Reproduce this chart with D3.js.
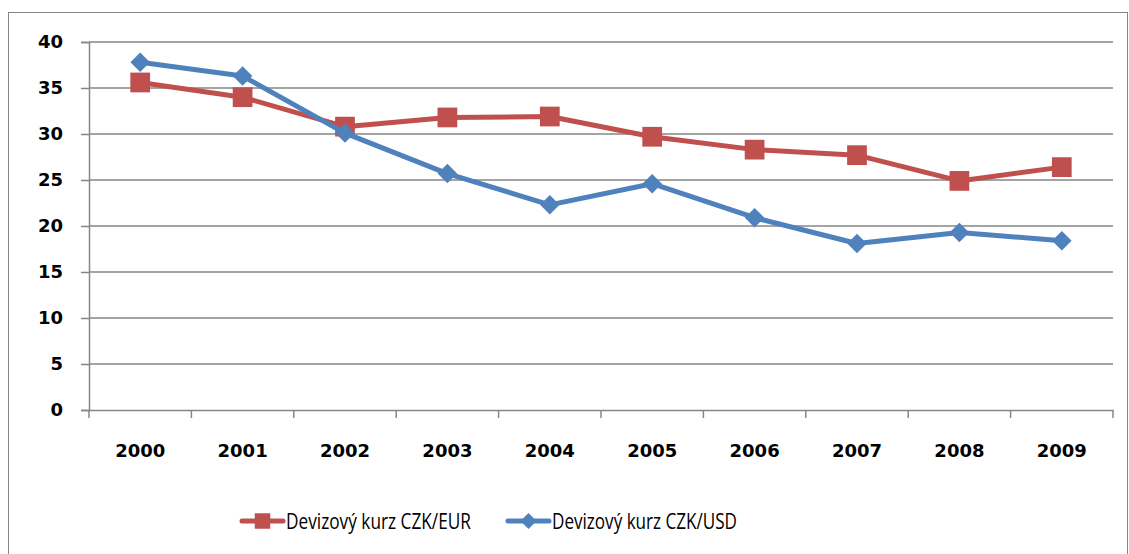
<!DOCTYPE html>
<html>
<head>
<meta charset="utf-8">
<script src="https://cdn.jsdelivr.net/npm/d3@7"></script>
<style>
  body { margin: 0; background: #fff; }
  svg { display: block; }
</style>
</head>
<body>
<svg id="chart" width="1129" height="554"></svg>
<script>
// Devizový kurz CZK/EUR a CZK/USD, 2000-2009
const years = ['2000', '2001', '2002', '2003', '2004', '2005', '2006', '2007', '2008', '2009'];
const eurValues = [35.6, 34.0, 30.8, 31.8, 31.9, 29.7, 28.3, 27.7, 24.9, 26.4];
const usdValues = [37.8, 36.3, 30.1, 25.7, 22.3, 24.6, 20.9, 18.1, 19.3, 18.4];
const yTicks = [0, 5, 10, 15, 20, 25, 30, 35, 40];
const seriesNames = ['Devizový kurz CZK/EUR', 'Devizový kurz CZK/USD'];

const red = '#C0504D';
const blue = '#4F81BD';
const grid = '#868686';
const tickFont = 'DejaVu Sans, sans-serif';
const legendFont = 'Open Sans, Noto Sans, sans-serif';

const svg = d3.select('#chart');

// outer frame
svg.append('rect')
    .attr('x', 8.5).attr('y', 12.5)
    .attr('width', 1119).attr('height', 560)
    .attr('fill', 'none').attr('stroke', grid).attr('stroke-width', 1);

const plot = { left: 89, right: 1113, top: 42, bottom: 410 };

const x = d3.scaleBand().domain(years).range([plot.left, plot.right]);
const y = d3.scaleLinear().domain([0, 40]).range([plot.bottom, plot.top]);

// horizontal gridlines
svg.append('g')
    .selectAll('line')
    .data(yTicks.filter(d => d > 0))
    .join('line')
    .attr('x1', plot.left).attr('x2', plot.right)
    .attr('y1', d => y(d)).attr('y2', d => y(d))
    .attr('stroke', grid).attr('stroke-width', 1.5);

// y axis
const yAxis = svg.append('g')
    .attr('transform', `translate(${plot.left},0)`)
    .call(d3.axisLeft(y).tickValues(yTicks).tickSize(8).tickPadding(18));
yAxis.select('.domain').attr('stroke', grid).attr('stroke-width', 1.5);
yAxis.selectAll('.tick line').attr('stroke', grid).attr('stroke-width', 1.5);
yAxis.selectAll('text')
    .attr('font-family', tickFont).attr('font-size', 18).attr('font-weight', 'bold')
    .attr('fill', '#000');

// x axis
const xAxis = svg.append('g')
    .attr('transform', `translate(0,${plot.bottom})`)
    .call(d3.axisBottom(x).tickSize(0).tickPadding(34));
xAxis.select('.domain').attr('stroke', grid).attr('stroke-width', 1.5);
xAxis.selectAll('text')
    .attr('font-family', tickFont).attr('font-size', 18).attr('font-weight', 'bold')
    .attr('fill', '#000');

// category boundary ticks
svg.append('g')
    .selectAll('line')
    .data(d3.range(years.length + 1))
    .join('line')
    .attr('x1', i => plot.left + i * x.step())
    .attr('x2', i => plot.left + i * x.step())
    .attr('y1', plot.bottom).attr('y2', plot.bottom + 8)
    .attr('stroke', grid).attr('stroke-width', 1.5);

const cx = d => x(d) + x.bandwidth() / 2;

function drawSeries(values, color, diamond) {
    const data = years.map((yr, i) => ({ yr, v: values[i] }));
    const line = d3.line().x(d => cx(d.yr)).y(d => y(d.v));
    svg.append('path')
        .datum(data)
        .attr('d', line)
        .attr('fill', 'none')
        .attr('stroke', color)
        .attr('stroke-width', 5)
        .attr('stroke-linejoin', 'round');
    svg.append('g')
        .selectAll('path')
        .data(data)
        .join('path')
        .attr('d', d3.symbol().type(d3.symbolSquare).size(diamond ? 190 : 390))
        .attr('transform', d => `translate(${cx(d.yr)},${y(d.v)})` + (diamond ? ' rotate(45)' : ''))
        .attr('fill', color);
}

drawSeries(eurValues, red, false);
drawSeries(usdValues, blue, true);

// legend
const legendItems = [
    { name: seriesNames[0], color: red, x: 242, diamond: false },
    { name: seriesNames[1], color: blue, x: 508, diamond: true }
];
const ly = 521;
const lg = svg.append('g');
legendItems.forEach(item => {
    lg.append('line')
        .attr('x1', item.x).attr('x2', item.x + 41)
        .attr('y1', ly).attr('y2', ly)
        .attr('stroke', item.color).attr('stroke-width', 5)
        .attr('stroke-linecap', 'round');
    lg.append('path')
        .attr('d', d3.symbol().type(d3.symbolSquare).size(item.diamond ? 130 : 240))
        .attr('transform', `translate(${item.x + 20.5},${ly})` + (item.diamond ? ' rotate(45)' : ''))
        .attr('fill', item.color);
    lg.append('text')
        .attr('x', item.x + 44).attr('y', ly)
        .attr('dy', '0.36em')
        .attr('font-family', legendFont).attr('font-size', 21)
        .attr('textLength', 185).attr('lengthAdjust', 'spacingAndGlyphs')
        .attr('fill', '#000')
        .text(item.name);
});
</script>
</body>
</html>
